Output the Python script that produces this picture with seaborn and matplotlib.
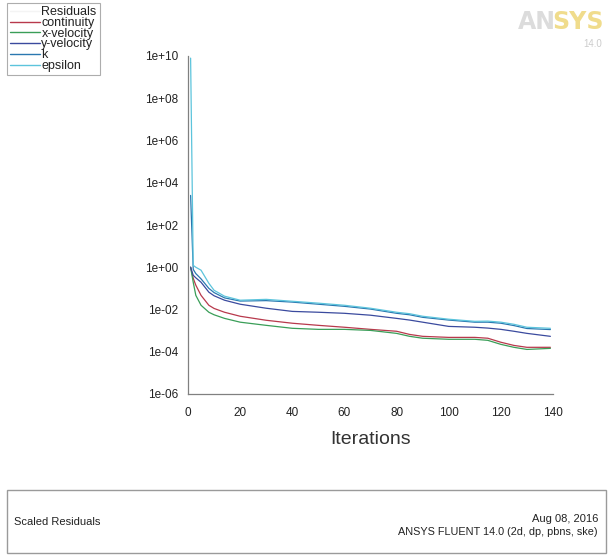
import numpy as np
import pandas as pd
import matplotlib
matplotlib.use("Agg")
import matplotlib.pyplot as plt
import matplotlib.patches as mpatches
from matplotlib.lines import Line2D
from matplotlib.ticker import FixedLocator, NullFormatter
import seaborn as sns

# ---- data (log10 of scaled residuals) ----
iterations = [1, 2, 3, 5, 8, 10, 14, 20, 30, 40, 50, 60, 70, 80, 85, 90,
              100, 110, 115, 120, 125, 130, 139]
continuity_log = [0.0, -0.52, -0.85, -1.33, -1.80, -1.95, -2.13, -2.32, -2.51, -2.65,
                  -2.75, -2.84, -2.94, -3.03, -3.18, -3.27, -3.32, -3.32, -3.36,
                  -3.55, -3.70, -3.79, -3.79]
xvel_log = [0.0, -0.71, -1.33, -1.80, -2.13, -2.25, -2.42, -2.60, -2.75, -2.89,
            -2.94, -2.94, -2.99, -3.13, -3.27, -3.36, -3.41, -3.41, -3.46,
            -3.65, -3.79, -3.89, -3.84]
yvel_log = [0.0, -0.38, -0.50, -0.71, -1.18, -1.35, -1.56, -1.75, -1.94, -2.09,
            -2.13, -2.18, -2.27, -2.42, -2.50, -2.60, -2.80, -2.84, -2.88,
            -2.94, -3.03, -3.13, -3.27]
k_log = [3.4, -0.10, -0.30, -0.55, -1.00, -1.20, -1.45, -1.60, -1.58, -1.65,
         -1.75, -1.85, -1.98, -2.18, -2.25, -2.37, -2.50, -2.60, -2.60,
         -2.65, -2.76, -2.90, -2.95]
epsilon_log = [9.9, 0.09, 0.0, -0.14, -0.76, -1.09, -1.37, -1.56, -1.52, -1.61,
               -1.70, -1.80, -1.94, -2.13, -2.20, -2.32, -2.46, -2.56, -2.55,
               -2.60, -2.70, -2.84, -2.89]

series_names = ["continuity", "x-velocity", "y-velocity", "k", "epsilon"]
series_logs = [continuity_log, xvel_log, yvel_log, k_log, epsilon_log]
colors = ["#b8394c", "#3a9e58", "#3a4a9e", "#2a78b0", "#5cc4dc"]

ytick_vals = [1e-6, 1e-4, 1e-2, 1e0, 1e2, 1e4, 1e6, 1e8, 1e10]
ytick_labels = ["1e-06", "1e-04", "1e-02", "1e+00", "1e+02", "1e+04",
                "1e+06", "1e+08", "1e+10"]
xtick_vals = [0, 20, 40, 60, 80, 100, 120, 140]

rows = []
for name, vals in zip(series_names, series_logs):
    for it, v in zip(iterations, vals):
        rows.append({"Iterations": it, "residual": 10.0 ** v, "series": name})
df = pd.DataFrame(rows)

sns.set_theme(style="white")
plt.rcParams["font.family"] = ["Liberation Sans Narrow", "Liberation Sans", "DejaVu Sans"]

fig = plt.figure(figsize=(6.11, 5.57), dpi=100)
ax = fig.add_axes([188 / 611, 1 - 394 / 557, (553 - 188) / 611, (394 - 56) / 557])

palette = dict(zip(series_names, colors))
sns.lineplot(data=df, x="Iterations", y="residual", hue="series",
             hue_order=series_names, palette=palette, ax=ax,
             linewidth=0.9, legend=False, estimator=None, sort=False)

ax.set_yscale("log")
ax.set_xlim(0, 140)
ax.set_ylim(1e-6, 1e10)
ax.yaxis.set_major_locator(FixedLocator(ytick_vals))
ax.set_yticklabels(ytick_labels)
minor_y = [10.0 ** e * m for e in range(-6, 10) for m in (2, 5, 10)]
ax.yaxis.set_minor_locator(FixedLocator(minor_y))
ax.yaxis.set_minor_formatter(NullFormatter())
ax.set_xticks(xtick_vals)
ax.set_xticks([10, 30, 50, 70, 90, 110, 130], minor=True)

for s in ["top", "right"]:
    ax.spines[s].set_visible(False)
for s in ["left", "bottom"]:
    ax.spines[s].set_color("#808080")
    ax.spines[s].set_linewidth(0.9)

ax.tick_params(axis="both", which="major", direction="inout", length=6,
               width=0.8, color="#606060", labelsize=8.5, labelcolor="#222222")
ax.tick_params(axis="both", which="minor", direction="inout", length=3,
               width=0.6, color="#808080")
ax.tick_params(axis="y", pad=4)
ax.tick_params(axis="x", pad=6)
ax.set_ylabel("")
ax.set_xlabel("Iterations", fontsize=14, color="#333333", labelpad=9)
ax.grid(False)

# legend
handles = [Line2D([], [], color="#f4f4f4", lw=1.0)] + \
          [Line2D([], [], color=c, lw=1.0) for c in colors]
labels = ["Residuals"] + series_names
leg = fig.legend(handles, labels, loc="upper left",
                 bbox_to_anchor=(7 / 611, 1 - 3 / 557),
                 bbox_transform=fig.transFigure,
                 fontsize=9, handlelength=2.4, handletextpad=0.1,
                 labelspacing=-0.1, borderpad=0.25, frameon=True,
                 fancybox=False, borderaxespad=0)
leg.get_frame().set_edgecolor("#999999")
leg.get_frame().set_linewidth(0.8)
for t in leg.get_texts():
    t.set_color("#222222")

# ANSYS logo
fig.text(518 / 611, 1 - 22 / 557, "AN", fontsize=17, fontweight="bold",
         color="#dcdcdc", va="center", ha="left", family=["Liberation Sans Narrow", "DejaVu Sans"])
fig.text(604 / 611, 1 - 22 / 557, "SYS", fontsize=17, fontweight="bold",
         color="#f0dc8c", va="center", ha="right", family=["Liberation Sans Narrow", "DejaVu Sans"])
fig.text(602 / 611, 1 - 44 / 557, "14.0", fontsize=7, color="#cccccc",
         va="center", ha="right")

# footer box
rect = mpatches.Rectangle((7 / 611, 1 - 553 / 557), (606 - 7) / 611, (553 - 490) / 557,
                          transform=fig.transFigure, fill=False,
                          edgecolor="#9a9a9a", linewidth=1.0)
fig.patches.append(rect)
fig.text(14 / 611, 1 - 522 / 557, "Scaled Residuals", fontsize=8,
         color="#222222", va="center", ha="left")
fig.text(598 / 611, 1 - 519 / 557, "Aug 08, 2016", fontsize=8,
         color="#222222", va="center", ha="right")
fig.text(598 / 611, 1 - 532 / 557, "ANSYS FLUENT 14.0 (2d, dp, pbns, ske)",
         fontsize=7.8, color="#222222", va="center", ha="right")

fig.savefig("out.png", dpi=100)
